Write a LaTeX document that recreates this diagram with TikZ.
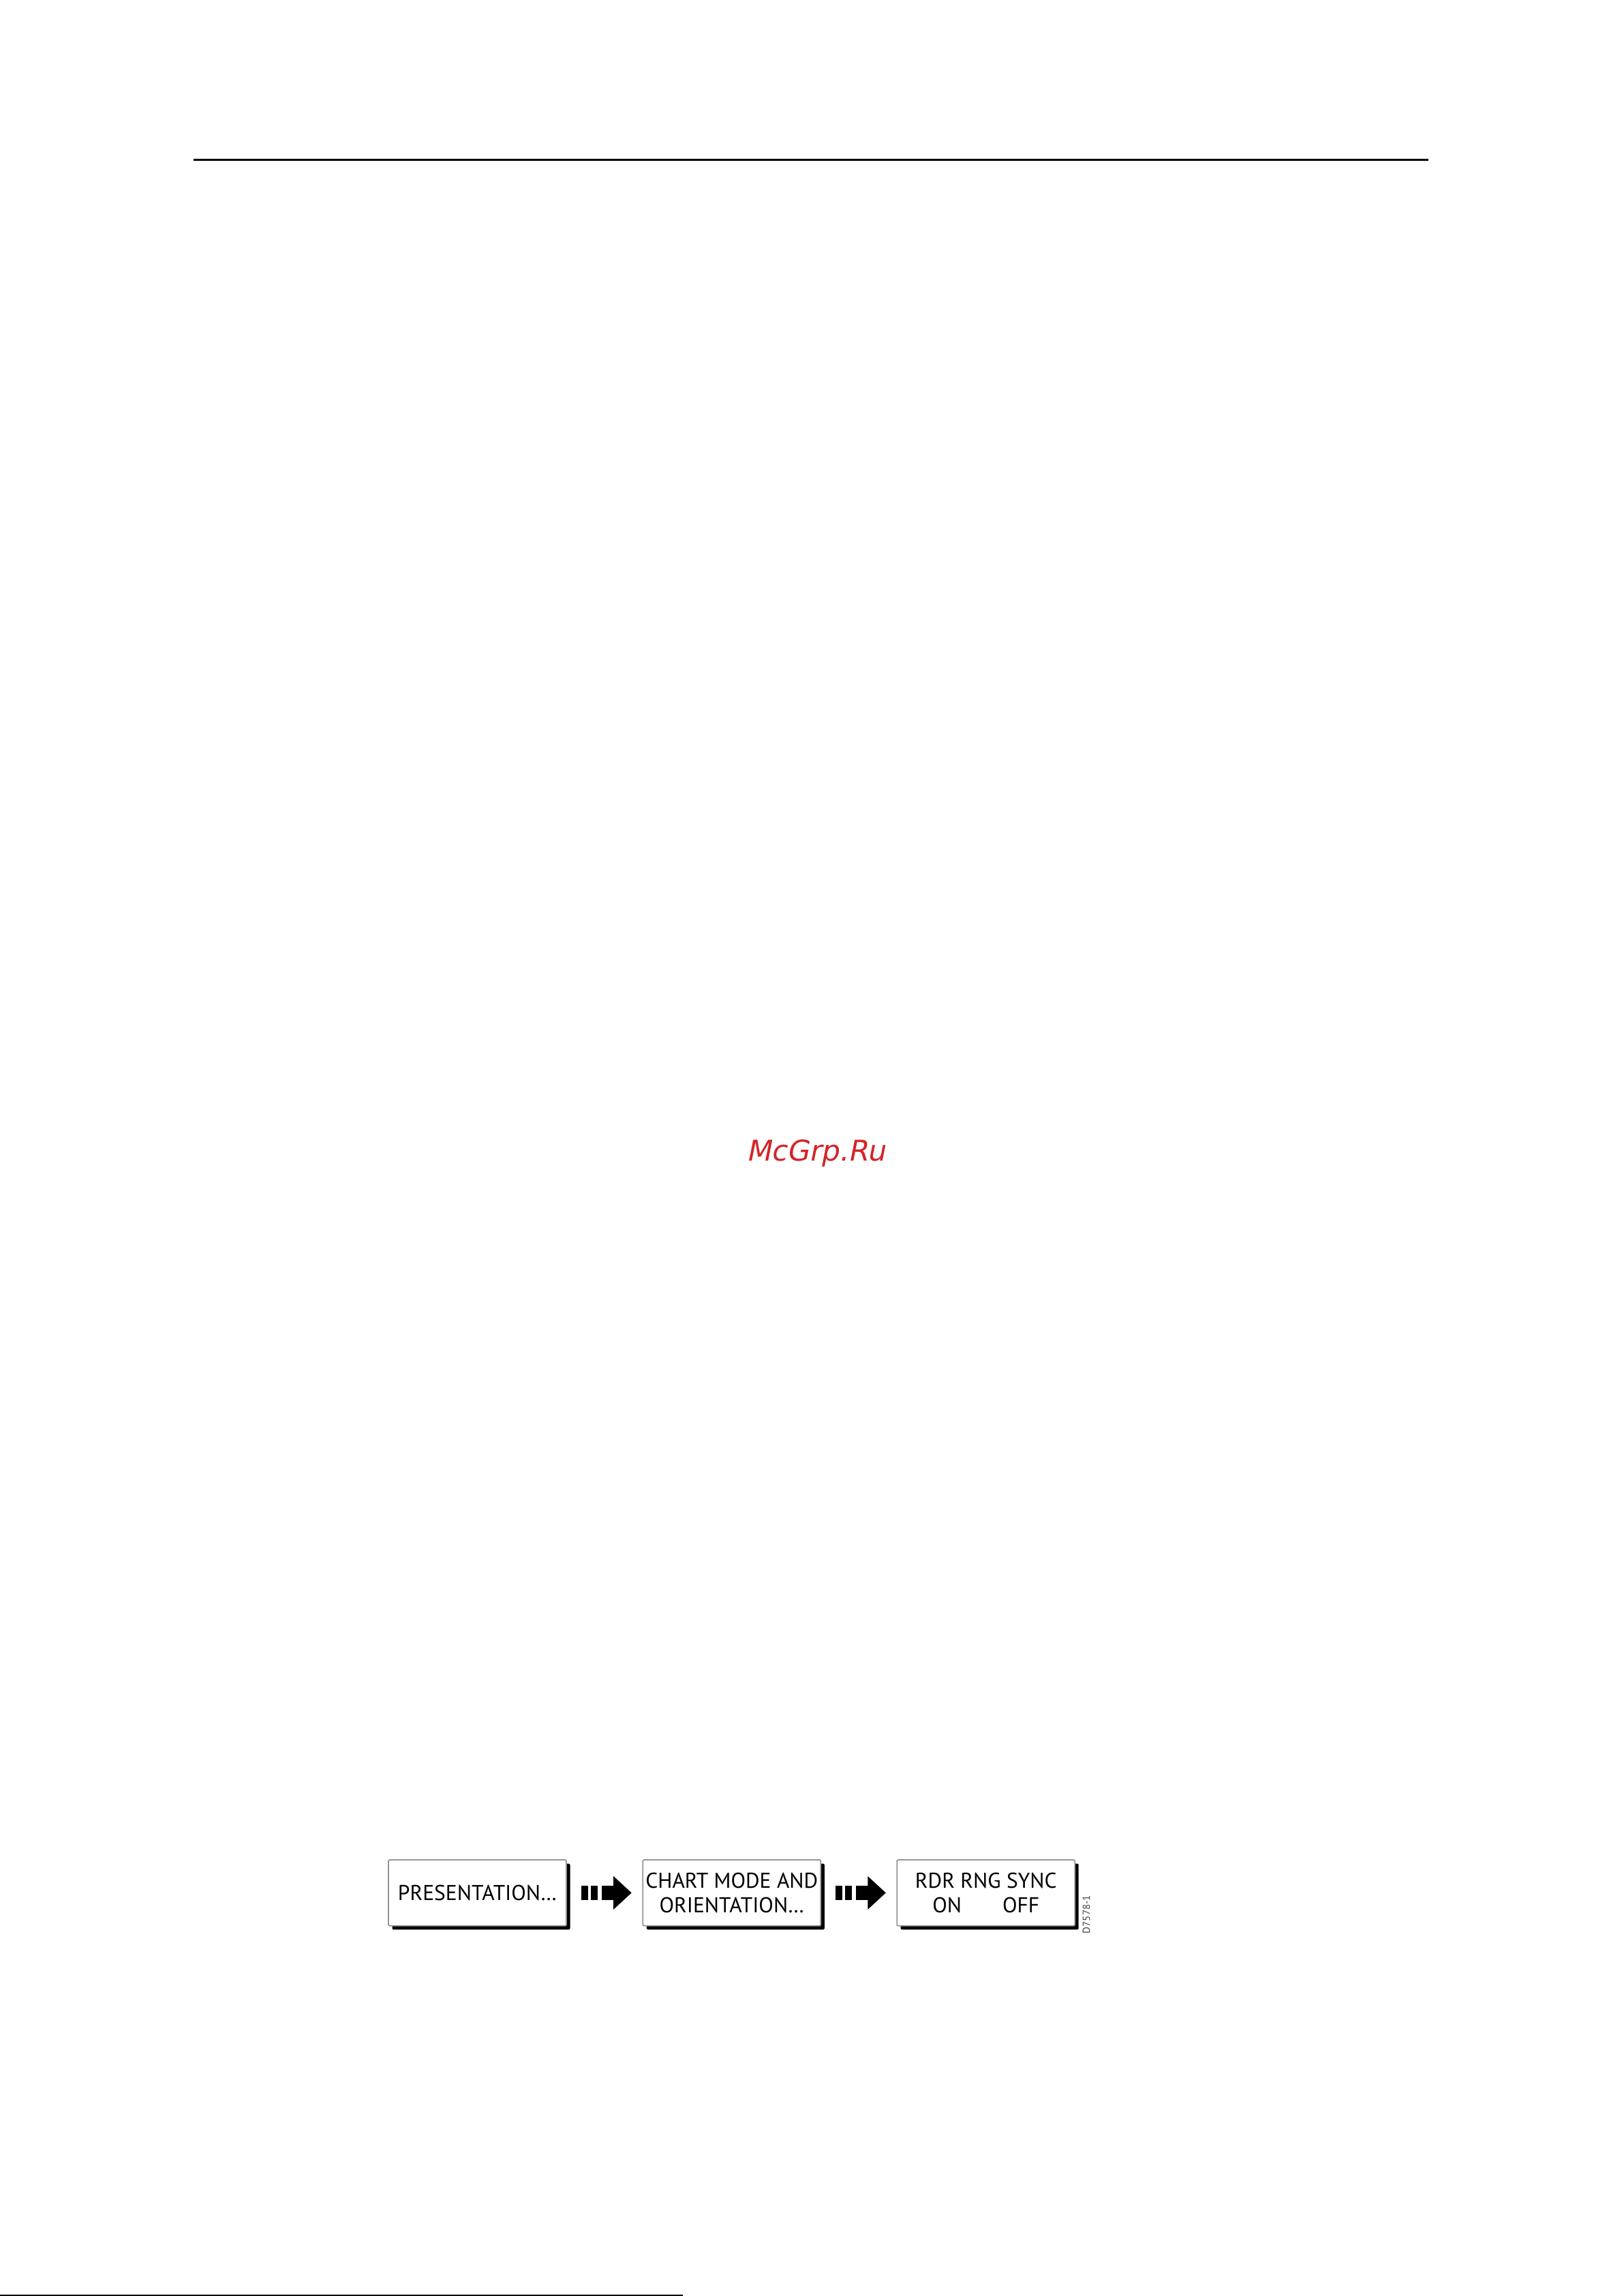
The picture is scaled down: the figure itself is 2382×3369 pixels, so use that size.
\documentclass[tikz,border=0pt]{standalone}
\usepackage{fontspec}
\setmainfont{PT Sans}
\newfontfamily\wmfont[FakeSlant=0.2]{DejaVu Sans}
\usetikzlibrary{shadows,calc}
\definecolor{wmred}{RGB}{212,36,40}
\definecolor{boxborder}{RGB}{150,150,150}
\begin{document}
\begin{tikzpicture}[x=1pt,y=-1pt,
  menubox/.style={draw=boxborder, line width=1.8pt, fill=white, rounded corners=1.5pt,
    minimum width=261pt, minimum height=96.7pt, inner sep=0pt, align=center,
    font=\fontsize{31.5}{36}\selectfont,
    drop shadow={shadow xshift=5.5pt, shadow yshift=-5.5pt, fill=black, opacity=1}},
  blockarrow/.pic={
    \fill (-34.5,-10.5) rectangle (-24.5,10.5);
    \fill (-20.5,-10.5) rectangle (-10.5,10.5);
    \fill (-4,-10.5) rectangle (14,10.5);
    \fill (13,-24.5) -- (39.5,0) -- (13,24.5) -- cycle;
  },
  rule/.style={line width=3pt, black}
]
\useasboundingbox (0,0) rectangle (2382,3369);
\fill[white] (0,0) rectangle (2382,3369);
% header rule
\draw[rule] (284,234.3) -- (2096,234.3);
% watermark
\node[anchor=base, font=\wmfont\fontsize{42}{42}\selectfont, text=wmred, inner sep=0pt] (wm) at (1197,1703.3) {McGrp.Ru};
% menu boxes
\node[menubox] (b1) at (700.5,2777.4) {PRESENTATION…};
\node[menubox] (b2) at (1073.8,2777.4) {CHART MODE AND\\ORIENTATION…};
\node[menubox] (b3) at (1446.7,2777.4) {RDR RNG SYNC\\ON\hspace{60pt}OFF};
% arrows between boxes
\coordinate (m1) at ($(b1.east)!0.5!(b2.west)$);
\coordinate (m2) at ($(b2.east)!0.5!(b3.west)$);
\pic at (m1) {blockarrow};
\pic at (m2) {blockarrow};
% figure code
\node[rotate=90, font=\fontsize{15}{15}\selectfont, text=black!75, inner sep=0pt] (code) at (1594,2809) {D7578-1};
% bottom rule
\draw[line width=2.5pt] (0,3368) -- (1002,3368);
\end{tikzpicture}
\end{document}
